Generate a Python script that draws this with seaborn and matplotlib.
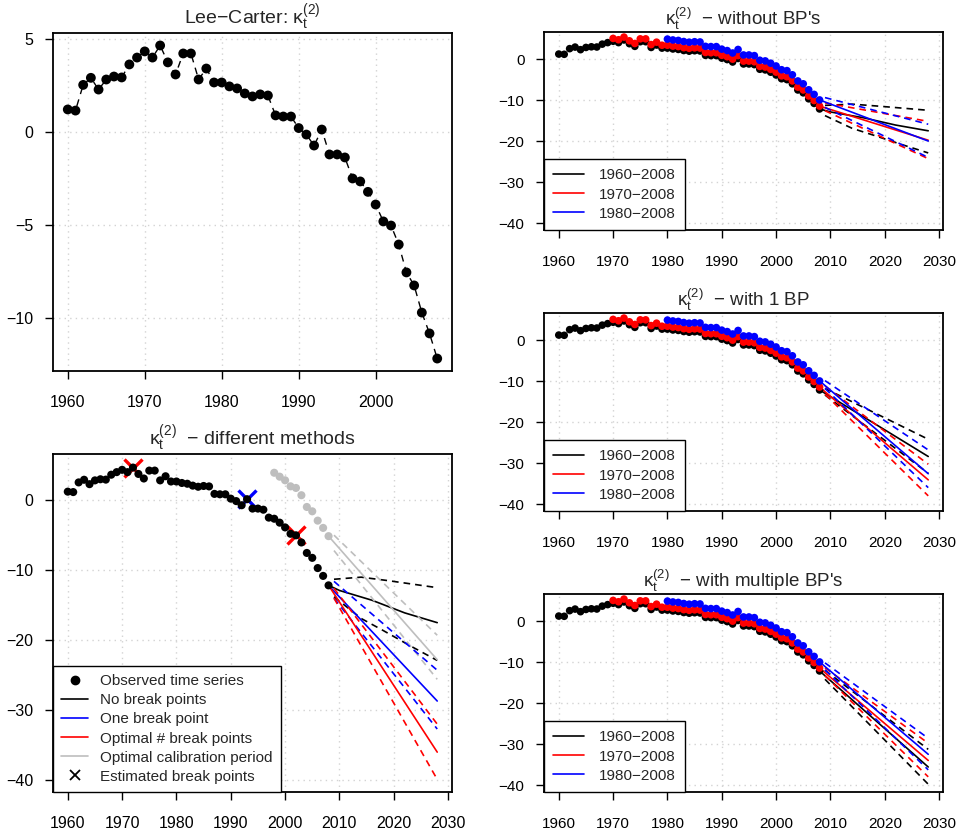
import matplotlib
matplotlib.use("Agg")
import matplotlib.pyplot as plt
from matplotlib.lines import Line2D
import seaborn as sns

# observed kappa_t (1960-2008 fit)
years = list(range(1960, 2009))
kappa = [1.22, 1.16, 2.54, 2.92, 2.29, 2.83, 2.99, 2.94, 3.64, 4.01,
         4.34, 4.01, 4.66, 3.75, 3.10, 4.23, 4.23, 2.83, 3.42, 2.67,
         2.67, 2.46, 2.35, 2.08, 1.92, 2.03, 1.97, 0.90, 0.84, 0.84,
         0.22, -0.13, -0.72, 0.14, -1.20, -1.20, -1.36, -2.49, -2.65, -3.21,
         -3.89, -4.80, -5.02, -6.04, -7.54, -8.24, -9.70, -10.82, -12.17]

# kappa_t from the 1970-2008 and 1980-2008 fits
years_1970 = list(range(1970, 2009))
kappa_1970 = [5.04, 4.71, 5.36, 4.45, 3.80, 4.93, 4.93, 3.53, 4.12, 3.37,
              3.37, 3.16, 3.05, 2.78, 2.62, 2.73, 2.67, 1.60, 1.54, 1.54,
              0.92, 0.57, -0.02, 0.84, -0.50, -0.50, -0.66, -1.79, -1.95, -2.51,
              -3.19, -4.10, -4.32, -5.34, -6.84, -7.54, -9.00, -10.12, -11.47]
years_1980 = list(range(1980, 2009))
kappa_1980 = [4.87, 4.66, 4.55, 4.28, 4.12, 4.23, 4.17, 3.10, 3.04, 3.04,
              2.42, 2.07, 1.48, 2.34, 1.00, 1.00, 0.84, -0.29, -0.45, -1.01,
              -1.69, -2.60, -2.82, -3.84, -5.34, -6.04, -7.50, -8.62, -9.97]

# optimal calibration period (1998-2008)
calib_years = list(range(1998, 2009))
kappa_calib = [3.92, 3.36, 2.84, 1.98, 1.75, 0.71, -0.97, -1.59, -2.92, -3.96, -5.14]

# estimated break points
bp_years = [1972, 1993, 2002]
bp_values = [4.66, 0.14, -5.02]
bp_colors = ["red", "blue", "red"]

mid_years = [2008, 2028]
band_years = [2009, 2028]

# forecasts without break points
nobp_black_mid_years = [2008, 2010, 2013, 2016, 2019, 2022, 2025, 2028]
nobp_black_mid = [-12.17, -12.9, -13.6, -14.3, -15.2, -16.1, -16.8, -17.5]
nobp_black_up_years = [2009, 2014, 2019, 2028]
nobp_black_up = [-11.3, -11.0, -11.5, -12.5]
nobp_black_lo_years = [2009, 2014, 2018, 2023, 2028]
nobp_black_lo = [-13.8, -16.9, -18.6, -20.8, -22.9]
nobp_red_mid = [-11.47, -19.8]
nobp_red_up = [-10.7, -15.2]
nobp_red_lo = [-12.6, -24.3]
nobp_blue_mid = [-9.97, -20.0]
nobp_blue_up = [-9.4, -15.9]
nobp_blue_lo = [-11.8, -24.0]

# forecasts with one break point
bp1_black_mid = [-12.17, -28.4]
bp1_black_up = [-11.8, -24.2]
bp1_black_lo = [-13.4, -32.5]
bp1_red_mid = [-11.47, -34.1]
bp1_red_up = [-11.2, -30.3]
bp1_red_lo = [-13.2, -38.0]
bp1_blue_mid = [-9.97, -32.6]
bp1_blue_up = [-9.9, -26.8]
bp1_blue_lo = [-11.8, -36.0]

# forecasts with multiple break points
mbp_black_mid = [-12.17, -35.6]
mbp_black_up = [-12.0, -31.3]
mbp_black_lo = [-14.2, -39.8]
mbp_red_mid = [-11.47, -34.0]
mbp_red_up = [-11.4, -29.8]
mbp_red_lo = [-13.3, -38.0]
mbp_blue_mid = [-9.97, -32.5]
mbp_blue_up = [-10.2, -28.6]
mbp_blue_lo = [-11.9, -36.3]

# different methods (bottom left)
one_bp_mid = [-12.17, -28.7]
one_bp_up = [-11.6, -24.3]
one_bp_lo = [-14.0, -32.7]
opt_bp_mid = [-12.17, -36.0]
opt_bp_up = [-12.6, -32.0]
opt_bp_lo = [-14.0, -39.9]
calib_mid = [-5.14, -22.8]
calib_up = [-5.0, -19.3]
calib_lo = [-7.2, -25.6]

period_labels = ["1960\u22122008", "1970\u22122008", "1980\u22122008"]
period_colors = ["black", "red", "blue"]

sns.set_style("ticks")
plt.rcParams["font.family"] = ["Liberation Sans", "DejaVu Sans"]
plt.rcParams["mathtext.fontset"] = "custom"
plt.rcParams["mathtext.rm"] = "Liberation Sans"
plt.rcParams["mathtext.it"] = "Liberation Sans"

fig = plt.figure(figsize=(9.61, 8.32), dpi=100)
W, H = 961, 832


def make_axes(x0, y0, x1, y1):
    return fig.add_axes([x0 / W, 1 - y1 / H, (x1 - x0) / W, (y1 - y0) / H])


def style(ax, xlim, ylim, xticks, yticks, fs, xpad, ypad):
    ax.set_xlim(xlim)
    ax.set_ylim(ylim)
    ax.set_xticks(xticks)
    ax.set_yticks(yticks)
    ax.grid(True, color="lightgray", linestyle=(0, (1, 3)), linewidth=1)
    ax.set_axisbelow(True)
    for s in ax.spines.values():
        s.set_visible(True)
        s.set_color("black")
        s.set_linewidth(1.3)
    ax.tick_params(direction="out", length=6, width=1, labelsize=fs, colors="black")
    ax.tick_params(axis="x", pad=xpad)
    ax.tick_params(axis="y", pad=ypad)
    ax.set_xlabel("")
    ax.set_ylabel("")


def line(ax, x, y, color, dashed=False, lw=1.2):
    sns.lineplot(x=x, y=y, color=color, lw=lw, ax=ax, sort=False, estimator=None,
                 linestyle=(0, (4, 3)) if dashed else "-")


def dots(ax, x, y, color, s):
    sns.scatterplot(x=x, y=y, color=color, s=s, edgecolor="none", linewidth=0, ax=ax, zorder=3)


def r_legend(ax, handles, labels, fs, spacing, hl, htp, bp):
    leg = ax.legend(handles, labels, loc="lower left", fontsize=fs, frameon=True,
                    fancybox=False, borderaxespad=0, labelspacing=spacing,
                    handlelength=hl, handletextpad=htp, borderpad=bp)
    leg.get_frame().set_edgecolor("black")
    leg.get_frame().set_linewidth(1.0)
    leg.get_frame().set_alpha(1)


title_k = r"$\mathregular{\kappa_t^{(2)}}$"
ylim_fc = (-41.7, 6.6)
xlim_fc = (1957.28, 2030.72)
xt_fc = list(range(1960, 2031, 10))
yt_fc = [0, -10, -20, -30, -40]

# top left: Lee-Carter kappa
ax = make_axes(53, 33, 452, 371)
sns.lineplot(x=years, y=kappa, color="black", lw=1, linestyle=(0, (5, 4)), ax=ax, sort=False)
dots(ax, years, kappa, "black", 50)
style(ax, (1958.08, 2009.92), (-12.84, 5.33), [1960, 1970, 1980, 1990, 2000], [-10, -5, 0, 5],
      11.5, 11, 8)
ax.set_title("Lee\u2212Carter: " + title_k, fontsize=14, pad=4)

# bottom left: different methods
ax = make_axes(53, 454, 452, 792)
for x, y, c in zip(bp_years, bp_values, bp_colors):
    ax.plot(x, y, marker="x", color=c, markersize=13, mew=2.4, zorder=2, linestyle="none")
dots(ax, years, kappa, "black", 34)
dots(ax, calib_years, kappa_calib, "#BEBEBE", 34)
line(ax, nobp_black_mid_years, nobp_black_mid, "black")
line(ax, nobp_black_up_years, nobp_black_up, "black", True)
line(ax, nobp_black_lo_years, nobp_black_lo, "black", True)
for c, m, u, l in [("#BEBEBE", calib_mid, calib_up, calib_lo),
                   ("blue", one_bp_mid, one_bp_up, one_bp_lo),
                   ("red", opt_bp_mid, opt_bp_up, opt_bp_lo)]:
    line(ax, mid_years, m, c)
    line(ax, band_years, u, c, True)
    line(ax, band_years, l, c, True)
style(ax, xlim_fc, ylim_fc, xt_fc, yt_fc, 11.5, 11, 8)
ax.set_title(title_k + "  \u2212 different methods", fontsize=14, pad=4)
handles = [
    Line2D([], [], marker="o", color="black", linestyle="none", markersize=6),
    Line2D([], [], color="black", lw=1.2),
    Line2D([], [], color="blue", lw=1.2),
    Line2D([], [], color="red", lw=1.2),
    Line2D([], [], color="#BEBEBE", lw=1.2),
    Line2D([], [], marker="x", color="black", linestyle="none", markersize=7, mew=1.3),
]
labels = ["Observed time series", "No break points", "One break point",
          "Optimal # break points", "Optimal calibration period", "Estimated break points"]
r_legend(ax, handles, labels, 11, 0.33, 1.75, 0.8, 0.55)

# right column
right_panels = [
    ((32, 230), "  \u2212 without BP's",
     [("black", nobp_black_mid_years, nobp_black_mid, nobp_black_up_years, nobp_black_up,
       nobp_black_lo_years, nobp_black_lo),
      ("red", mid_years, nobp_red_mid, band_years, nobp_red_up, band_years, nobp_red_lo),
      ("blue", mid_years, nobp_blue_mid, band_years, nobp_blue_up, band_years, nobp_blue_lo)]),
    ((313, 511), "  \u2212 with 1 BP",
     [("black", mid_years, bp1_black_mid, band_years, bp1_black_up, band_years, bp1_black_lo),
      ("red", mid_years, bp1_red_mid, band_years, bp1_red_up, band_years, bp1_red_lo),
      ("blue", mid_years, bp1_blue_mid, band_years, bp1_blue_up, band_years, bp1_blue_lo)]),
    ((594, 792), "  \u2212 with multiple BP's",
     [("black", mid_years, mbp_black_mid, band_years, mbp_black_up, band_years, mbp_black_lo),
      ("red", mid_years, mbp_red_mid, band_years, mbp_red_up, band_years, mbp_red_lo),
      ("blue", mid_years, mbp_blue_mid, band_years, mbp_blue_up, band_years, mbp_blue_lo)]),
]

for (y0, y1), title, forecasts in right_panels:
    ax = make_axes(544, y0, 943, y1)
    dots(ax, years, kappa, "black", 30)
    dots(ax, years_1970, kappa_1970, "red", 30)
    dots(ax, years_1980, kappa_1980, "blue", 30)
    for c, mx, my, ux, uy, lx, ly in forecasts:
        line(ax, mx, my, c)
        line(ax, ux, uy, c, True)
        line(ax, lx, ly, c, True)
    style(ax, xlim_fc, ylim_fc, xt_fc, yt_fc, 11, 12, 8)
    ax.set_title(title_k + title, fontsize=13.5, pad=4)
    handles = [Line2D([], [], color=c, lw=1.2) for c in period_colors]
    r_legend(ax, handles, period_labels, 11, 0.34, 2.0, 1.0, 0.6)

fig.savefig("out.png", dpi=100)
